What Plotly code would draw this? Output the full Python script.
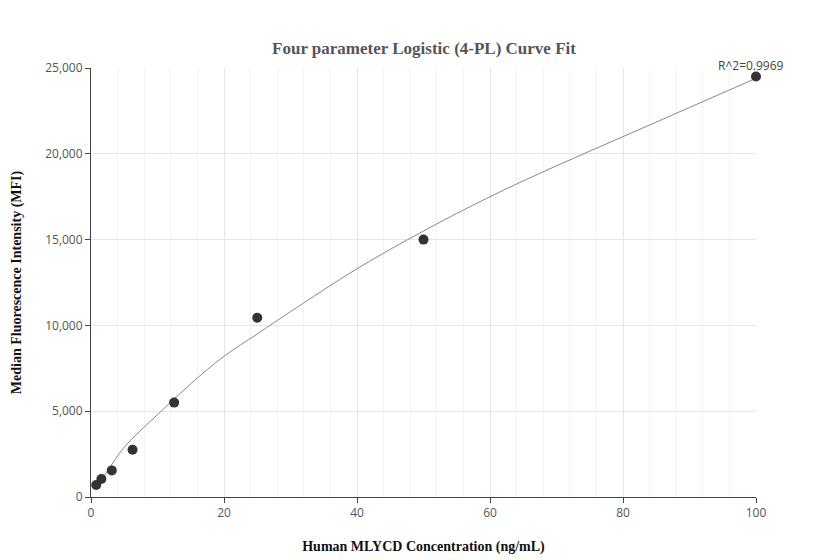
import plotly.graph_objects as go

# measured standards
conc = [0.78, 1.56, 3.125, 6.25, 12.5, 25, 50, 100]
mfi = [700, 1050, 1550, 2750, 5500, 10450, 15000, 24500]

# fitted curve
curve_x = [0.78, 2, 5, 10, 15, 20, 25, 30, 40, 50, 60, 70, 80, 90, 100]
curve_y = [650, 1250, 2900, 4800, 6600, 8200, 9500, 10800, 13300, 15500, 17500, 19300, 21000, 22700, 24400]

r2_text = "R^2=0.9969"

fig = go.Figure()
fig.add_trace(go.Scatter(x=curve_x, y=curve_y, mode="lines", line=dict(color="#888888", width=1, shape="spline"),
                         hoverinfo="skip", showlegend=False))
fig.add_trace(go.Scatter(x=conc, y=mfi, mode="markers", marker=dict(color="#333333", size=10),
                         cliponaxis=False, showlegend=False))

fig.add_annotation(x=100, y=24500, text=r2_text, showarrow=False, yshift=11, xshift=-5,
                   font=dict(family="Open Sans, sans-serif", size=12, color="#444"))

fig.update_layout(
    width=832, height=560,
    margin=dict(l=83, r=84, t=60, b=71),
    plot_bgcolor="white", paper_bgcolor="white",
    title=dict(text="<b>Four parameter Logistic (4-PL) Curve Fit</b>", x=0.5, y=0.94,
               font=dict(family="Liberation Serif, serif", size=17, color="#555")),
)
fig.update_xaxes(range=[0, 100], dtick=20, showgrid=True, gridcolor="#e6e6e6", automargin=False,
                 minor=dict(dtick=4, showgrid=True, gridcolor="#f3f3f3"),
                 showline=True, linecolor="#444", ticks="outside", ticklen=5, tickcolor="#444",
                 tickfont=dict(family="Open Sans, sans-serif", size=12, color="#555"),
                 title=dict(text="<b>Human MLYCD Concentration (ng/mL)</b>", standoff=20,
                            font=dict(family="Liberation Serif, serif", size=14, color="#111")))
fig.update_yaxes(range=[0, 25000], dtick=5000, tickformat=",", showgrid=True, gridcolor="#e6e6e6",
                 automargin=False,
                 showline=True, linecolor="#444", ticks="outside", ticklen=5, tickcolor="#444",
                 tickfont=dict(family="Open Sans, sans-serif", size=12, color="#555"),
                 title=dict(text="<b>Median Fluorescence Intensity (MFI)</b>", standoff=20,
                            font=dict(family="Liberation Serif, serif", size=14, color="#111")))

fig.write_html("out.html")
